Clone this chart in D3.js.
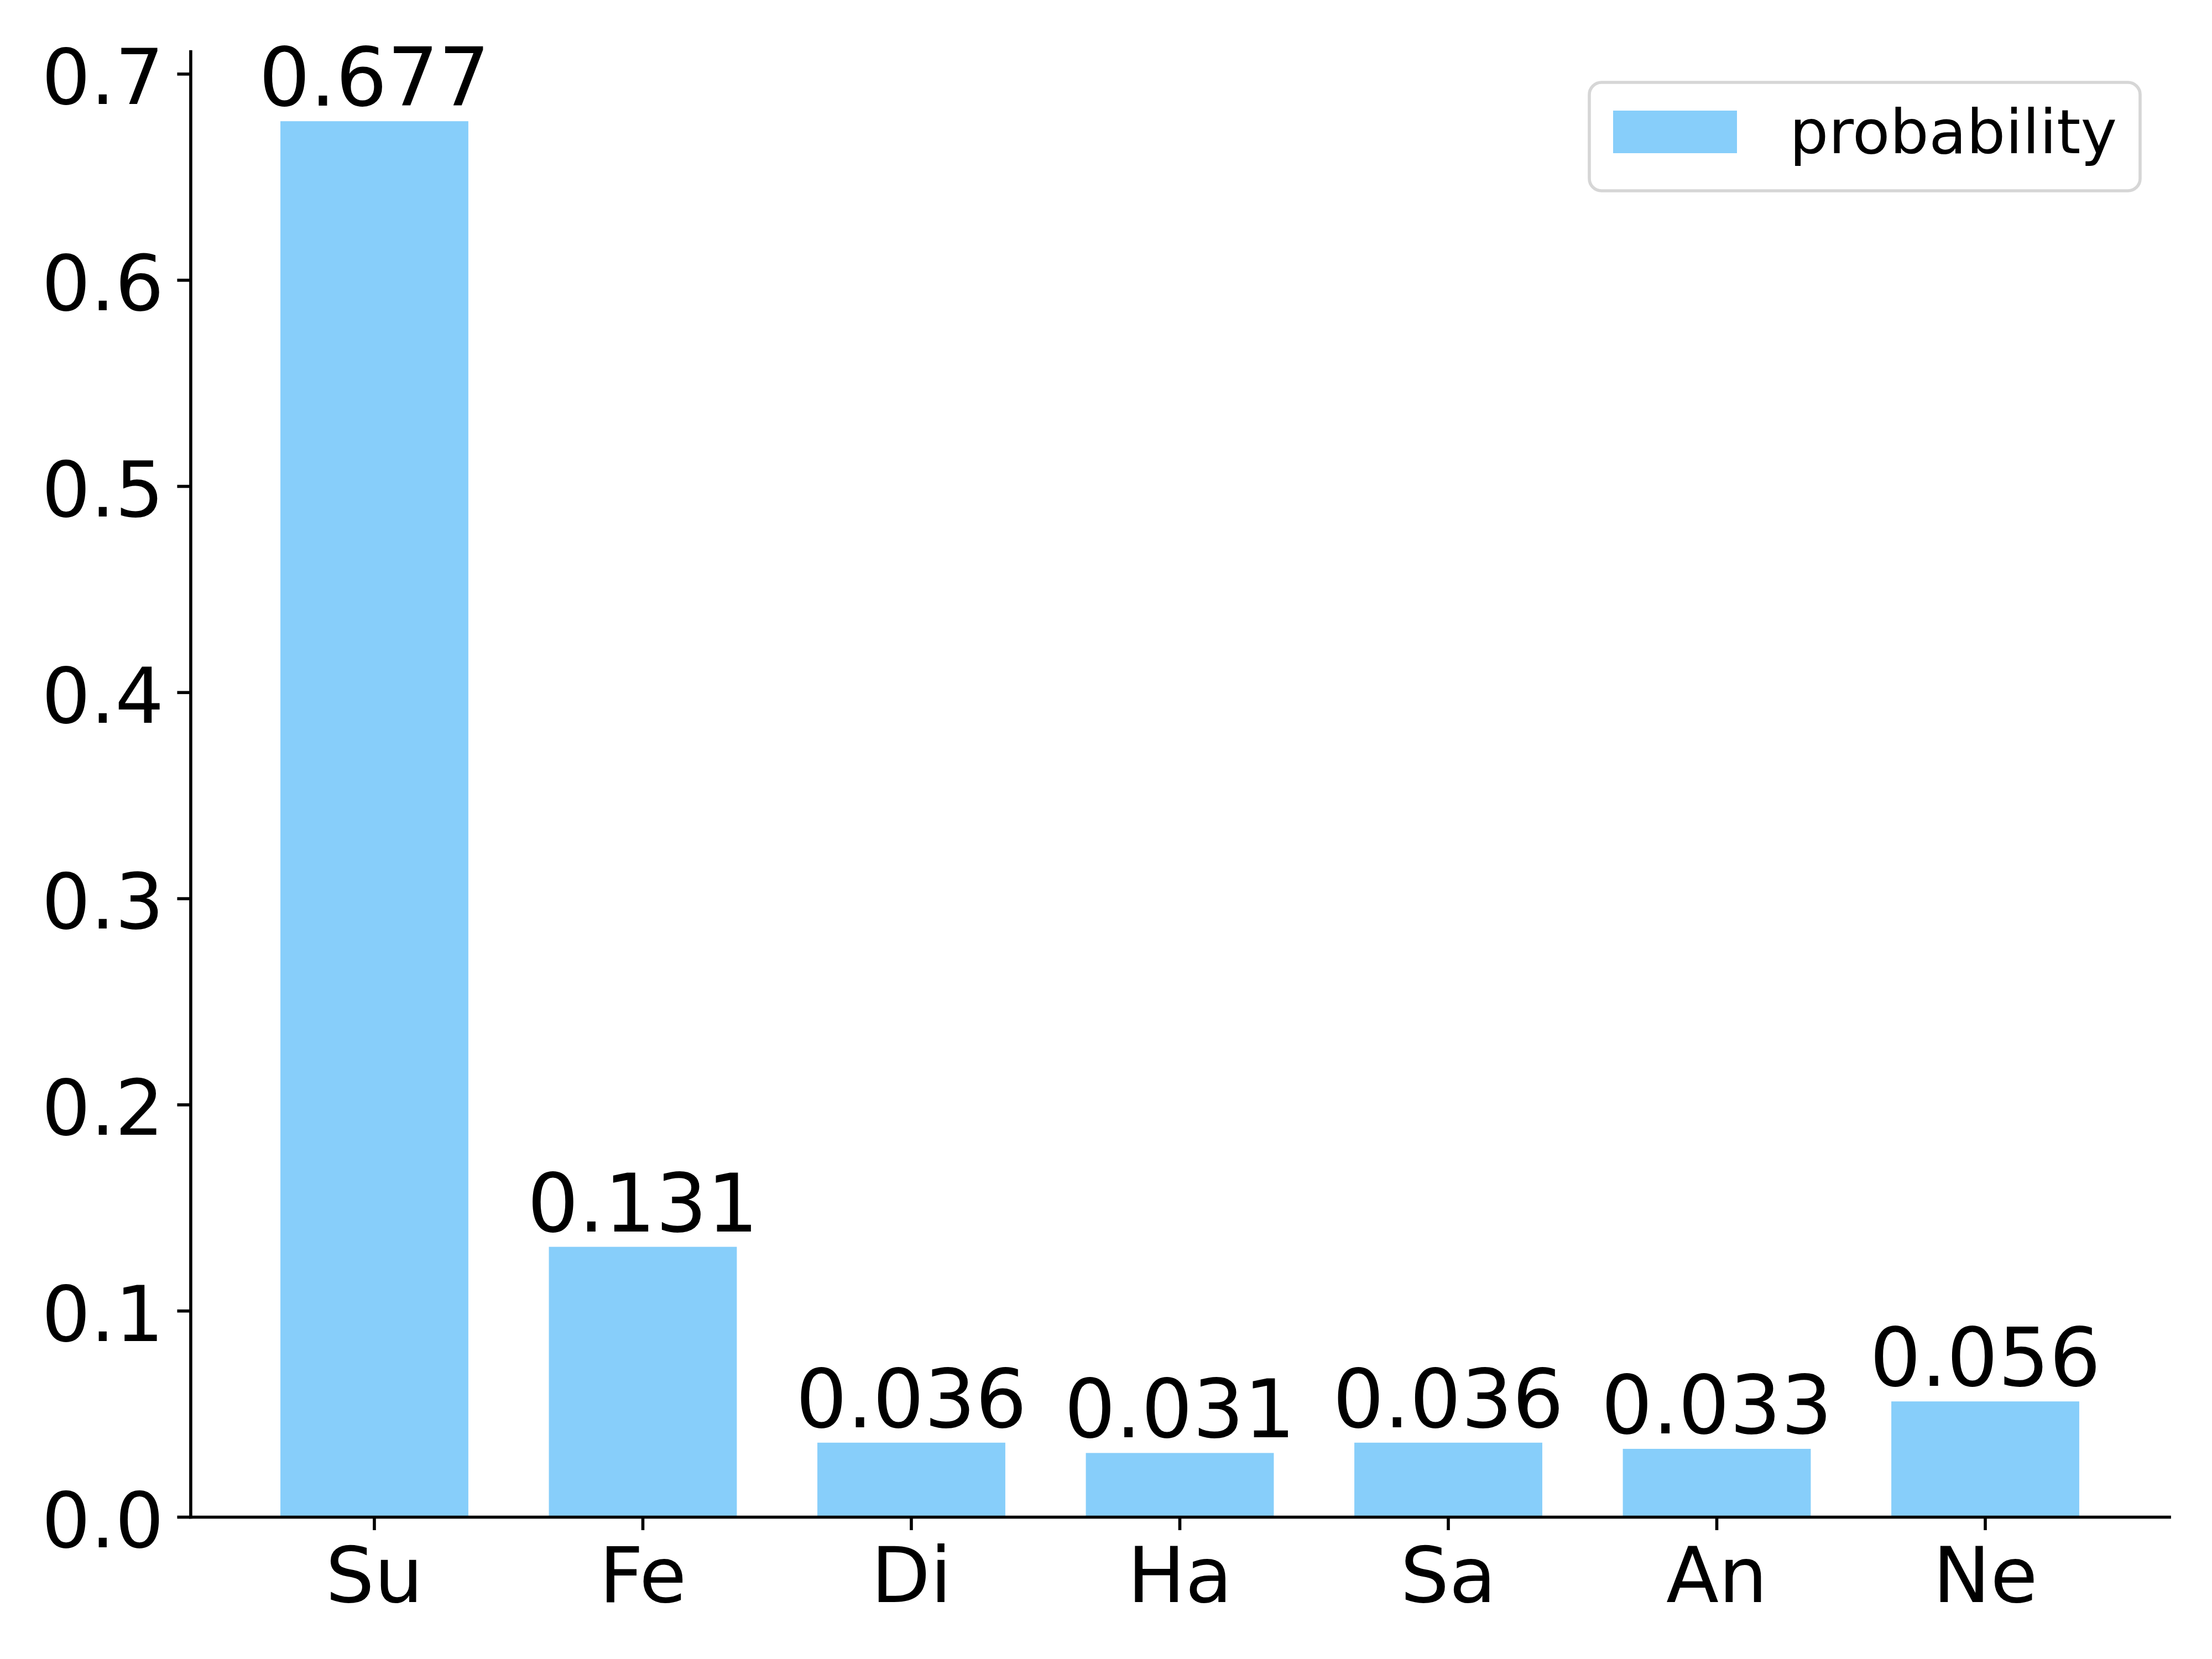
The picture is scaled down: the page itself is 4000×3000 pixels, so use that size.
<!DOCTYPE html>
<html>
<head>
<meta charset="utf-8">
<script src="https://cdn.jsdelivr.net/npm/d3@7/dist/d3.min.js"></script>
<style>
  html, body { margin: 0; padding: 0; background: #ffffff; overflow: hidden; }
  svg { display: block; }
</style>
</head>
<body>
<script>
// ---- data ----
const categories = ["Su", "Fe", "Di", "Ha", "Sa", "An", "Ne"];
const probability = [0.677, 0.131, 0.036, 0.031, 0.036, 0.033, 0.056];
const yTicks = [0.0, 0.1, 0.2, 0.3, 0.4, 0.5, 0.6, 0.7];
const seriesName = "probability";

// ---- layout ----
const W = 4000, H = 3000;
const plotL = 344.4, plotR = 3922.6, plotT = 93, plotB = 2743;
const barColor = "#87CEFA";
const font = "'DejaVu Sans', sans-serif";

const svg = d3.select("body").append("svg")
  .attr("width", W).attr("height", H)
  .attr("viewBox", `0 0 ${W} ${H}`);

svg.append("rect").attr("width", W).attr("height", H).attr("fill", "#fff");

const x = d3.scaleBand()
  .domain(categories)
  .range([plotL, plotR])
  .paddingInner(0.3)
  .paddingOuter(0.335);

const yMax = d3.max(probability) * 1.05;
const y = d3.scaleLinear().domain([0, yMax]).range([plotB, plotT]);

const data = categories.map((c, i) => ({ c, v: probability[i] }));

// bars
svg.append("g").selectAll("rect")
  .data(data).join("rect")
  .attr("x", d => x(d.c))
  .attr("y", d => y(d.v))
  .attr("width", x.bandwidth())
  .attr("height", d => y(0) - y(d.v))
  .attr("fill", barColor);

// value labels
svg.append("g").selectAll("text")
  .data(data).join("text")
  .attr("x", d => x(d.c) + x.bandwidth() / 2)
  .attr("y", d => y(d.v) - 28)
  .attr("text-anchor", "middle")
  .attr("font-family", font)
  .attr("font-size", 146)
  .attr("fill", "#000")
  .text(d => d.v.toFixed(3));

// axes
const sw = 5.6;
const yAxis = d3.axisLeft(y)
  .tickValues(yTicks)
  .tickFormat(d3.format(".1f"))
  .tickSize(24).tickSizeOuter(0).tickPadding(24);
const gy = svg.append("g").attr("transform", `translate(${plotL},0)`).call(yAxis);

const xAxis = d3.axisBottom(x)
  .tickSize(24).tickSizeOuter(0).tickPadding(24);
const gx = svg.append("g").attr("transform", `translate(0,${plotB})`).call(xAxis);

[gy, gx].forEach(g => {
  g.attr("font-family", font).attr("font-size", 139);
  g.select(".domain").attr("stroke", "#000").attr("stroke-width", sw).attr("stroke-linecap", "square");
  g.selectAll(".tick line").attr("stroke", "#000").attr("stroke-width", sw);
  g.selectAll(".tick text").attr("fill", "#000");
});
gy.selectAll(".tick text").attr("dy", "0.39em");
gx.selectAll(".tick text").attr("dy", "0.76em");

// legend
const lg = svg.append("g");
lg.append("rect")
  .attr("x", 2874).attr("y", 149)
  .attr("width", 996).attr("height", 196)
  .attr("rx", 22).attr("ry", 22)
  .attr("fill", "#ffffff")
  .attr("stroke", "#d6d6d6").attr("stroke-width", sw);
lg.append("rect")
  .attr("x", 2917).attr("y", 200)
  .attr("width", 224).attr("height", 77)
  .attr("fill", barColor);
lg.append("text")
  .attr("x", 3236).attr("y", 277)
  .attr("font-family", font).attr("font-size", 111)
  .attr("fill", "#000")
  .text(seriesName);
</script>
</body>
</html>
